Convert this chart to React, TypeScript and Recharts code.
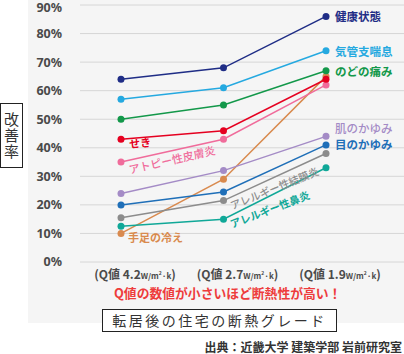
import { CartesianGrid, LineChart, Line, XAxis, YAxis } from "recharts";

// Q値 (W/m²·k) of the house after moving
const qLabels = ["4.2", "2.7", "1.9"];
const yTicks = [0, 10, 20, 30, 40, 50, 60, 70, 80, 90];

// improvement rate (%) per symptom
const kenkou = [64, 68, 86];
const kikanshi = [57, 61, 74];
const nodo = [50, 55, 67];
const seki = [43, 46, 64];
const atopy = [35, 43, 62];
const hada = [24, 32, 44];
const me = [20, 24.5, 41];
const ketsumaku = [15.5, 21.5, 38];
const bien = [12.5, 15, 33];
const teashi = [10, 29, 65];

const FONT = "'Noto Sans CJK JP', 'Noto Sans', sans-serif";

type LabelCfg = { index: number; text: string; dx: number; dy: number; angle: number; size: number; weight: number };

const series: { key: string; values: number[]; color: string; label: LabelCfg }[] = [
  { key: "teashi", values: teashi, color: "#d98a4e", label: { index: 0, text: "手足の冷え", dx: 7, dy: 4, angle: 0, size: 11, weight: 600 } },
  { key: "bien", values: bien, color: "#10a898", label: { index: 1, text: "アレルギー性鼻炎", dx: 7, dy: 5, angle: -21, size: 10.5, weight: 600 } },
  { key: "ketsumaku", values: ketsumaku, color: "#8c8c8c", label: { index: 1, text: "アレルギー性結膜炎", dx: 7, dy: 5, angle: -22, size: 10.5, weight: 500 } },
  { key: "me", values: me, color: "#1f6fb8", label: { index: 2, text: "目のかゆみ", dx: 9, dy: -1, angle: 0, size: 11.5, weight: 700 } },
  { key: "hada", values: hada, color: "#a48bc6", label: { index: 2, text: "肌のかゆみ", dx: 9, dy: -8, angle: 0, size: 11.5, weight: 500 } },
  { key: "atopy", values: atopy, color: "#f06c9b", label: { index: 0, text: "アトピー性皮膚炎", dx: 8, dy: 7, angle: -13, size: 11, weight: 500 } },
  { key: "seki", values: seki, color: "#e50020", label: { index: 0, text: "せき", dx: 8, dy: 4, angle: -5, size: 11, weight: 700 } },
  { key: "nodo", values: nodo, color: "#13984a", label: { index: 2, text: "のどの痛み", dx: 9, dy: 0, angle: 0, size: 11.5, weight: 700 } },
  { key: "kikanshi", values: kikanshi, color: "#25a9e0", label: { index: 2, text: "気管支喘息", dx: 9, dy: 0, angle: 0, size: 11.5, weight: 700 } },
  { key: "kenkou", values: kenkou, color: "#1f2d86", label: { index: 2, text: "健康状態", dx: 9, dy: 0, angle: 0, size: 11.5, weight: 700 } },
];

const data = qLabels.map((q, i) => {
  const row: Record<string, any> = { q };
  series.forEach((s) => (row[s.key] = s.values[i]));
  return row;
});

const makeLabel = (cfg: LabelCfg, color: string) => (props: any) => {
  if (props.index !== cfg.index) return <g />;
  const x0 = props.x + cfg.dx;
  const y0 = props.y + cfg.dy;
  return (
    <text
      x={x0}
      y={y0}
      fill={color}
      fontSize={cfg.size}
      fontWeight={cfg.weight}
      fontFamily={FONT}
      dominantBaseline="central"
      textAnchor="start"
      transform={cfg.angle ? `rotate(${cfg.angle}, ${x0}, ${y0})` : undefined}
    >
      {cfg.text}
    </text>
  );
};

const QTick = ({ x, y, payload }: any) => (
  <text x={x + 14} y={y} dy={9} textAnchor="middle" fill="#4a4a4a" fontFamily={FONT} fontWeight={600}>
    <tspan fontSize={12}>{`(Q値 ${payload.value}`}</tspan>
    <tspan fontSize={8}>W/m</tspan>
    <tspan fontSize={5} dy={-4}>2</tspan>
    <tspan fontSize={8} dy={4}>·k</tspan>
    <tspan fontSize={12}>)</tspan>
  </text>
);

export default function App() {
  return (
    <div style={{ position: "absolute", left: 0, top: 0, width: 404, height: 354, background: "#fff", fontFamily: FONT }}>
      <div style={{ position: "absolute", left: 28, top: 0, width: 376, height: 323, background: "#f5f5f5" }} />
      <div style={{ position: "absolute", left: 0, top: 0 }}>
        <LineChart width={404} height={354} data={data} margin={{ top: 5, right: 0, bottom: 0, left: 0 }}>
          <CartesianGrid vertical={false} stroke="#d6d6d6" strokeWidth={1} />
          <YAxis
            width={80}
            domain={[0, 90]}
            ticks={yTicks}
            axisLine={false}
            tickLine={false}
            tickSize={0}
            tickMargin={18}
            tickFormatter={(v) => `${v}%`}
            tick={{ fill: "#4a4a4a", fontSize: 12.5, fontWeight: 700, fontFamily: "'Noto Sans', sans-serif" }}
          />
          <XAxis
            dataKey="q"
            scale="point"
            height={92}
            padding={{ left: 41, right: 78 }}
            axisLine={false}
            tickLine={false}
            interval={0}
            tick={<QTick />}
          />
          {series.map((s) => (
            <Line
              key={s.key}
              dataKey={s.key}
              stroke={s.color}
              strokeWidth={1.5}
              dot={{ r: 3.5, fill: s.color, stroke: s.color, strokeWidth: 0 }}
              label={makeLabel(s.label, s.color)}
              isAnimationActive={false}
            />
          ))}
        </LineChart>
      </div>

      <div
        style={{
          position: "absolute",
          left: 0,
          top: 103,
          width: 21,
          height: 63,
          border: "1.5px solid #222",
          background: "#fff",
          display: "flex",
          alignItems: "center",
          justifyContent: "center",
        }}
      >
        <span style={{ writingMode: "vertical-rl", fontSize: 15, letterSpacing: 1, color: "#333", lineHeight: 1 }}>改善率</span>
      </div>

      <div
        style={{
          position: "absolute",
          left: 114,
          top: 285,
          fontSize: 12.8,
          lineHeight: "16px",
          fontWeight: 700,
          color: "#ee3c3c",
          whiteSpace: "nowrap",
        }}
      >
        Q値の数値が小さいほど断熱性が高い！
      </div>

      <div
        style={{
          position: "absolute",
          left: 102,
          top: 309,
          width: 233,
          height: 21,
          border: "1.5px solid #222",
          background: "#fff",
          fontSize: 14,
          lineHeight: "21px",
          letterSpacing: 2.5,
          textAlign: "center",
          color: "#333",
          whiteSpace: "nowrap",
        }}
      >
        転居後の住宅の断熱グレード
      </div>

      <div
        style={{
          position: "absolute",
          right: 2,
          top: 340,
          fontSize: 12,
          lineHeight: "13px",
          fontWeight: 700,
          color: "#333",
          whiteSpace: "nowrap",
        }}
      >
        出典：近畿大学 建築学部 岩前研究室
      </div>
    </div>
  );
}
